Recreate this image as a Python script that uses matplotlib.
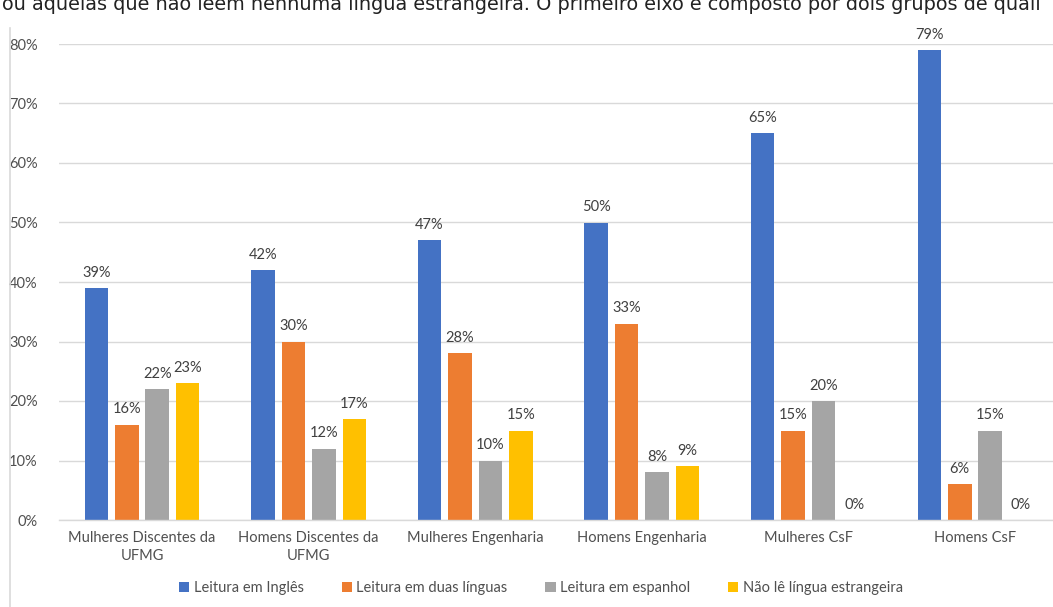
import matplotlib
matplotlib.use("Agg")
import matplotlib.pyplot as plt
import matplotlib.ticker as mtick
from matplotlib.lines import Line2D
import numpy as np

# Shares of each reading profile per group (percent)
categories = [
    "Mulheres Discentes da\nUFMG",
    "Homens Discentes da\nUFMG",
    "Mulheres Engenharia",
    "Homens Engenharia",
    "Mulheres CsF",
    "Homens CsF",
]
ingles = [39, 42, 47, 50, 65, 79]
duas_linguas = [16, 30, 28, 33, 15, 6]
espanhol = [22, 12, 10, 8, 20, 15]
nao_le = [23, 17, 15, 9, 0, 0]

series_names = [
    "Leitura em Inglês",
    "Leitura em duas línguas",
    "Leitura em espanhol",
    "Não lê língua estrangeira",
]
colors = ["#4472C4", "#ED7D31", "#A5A5A5", "#FFC000"]

plt.rcParams["font.family"] = ["Lato", "DejaVu Sans"]
text_gray = "#505050"
grid_gray = "#D9D9D9"

fig = plt.figure(figsize=(10.53, 6.07), dpi=100)
ax = fig.add_axes([58.7 / 1053, 87 / 607, 999.6 / 1053, 476 / 607])

x = np.arange(len(categories))
width = 0.141
step = 0.183
all_series = [ingles, duas_linguas, espanhol, nao_le]

for i, (vals, name, col) in enumerate(zip(all_series, series_names, colors)):
    offs = (i - 1.5) * step
    fracs = np.array(vals) / 100
    bars = ax.bar(x + offs, fracs, width, color=col, label=name, zorder=2)
    for b, v in zip(bars, vals):
        ax.annotate(f"{v}%", (b.get_x() + b.get_width() / 2, b.get_height()),
                    xytext=(0, 6), textcoords="offset points",
                    ha="center", va="bottom", fontsize=10.5,
                    color="#404040", annotation_clip=False)

# --- axes formatting ---
ax.set_xlim(-0.5, len(categories) - 0.5)
ax.set_ylim(0, 0.8)
ax.yaxis.set_major_locator(mtick.MultipleLocator(0.1))
ax.yaxis.set_major_formatter(mtick.FuncFormatter(lambda v, _: f"{v * 100:.0f}%"))
ax.set_xticks(x)
ax.set_xticklabels(categories, fontsize=10.5, color=text_gray, linespacing=1.35)
ax.tick_params(axis="y", length=0, pad=15, labelsize=10.5, labelcolor=text_gray)
ax.tick_params(axis="x", length=0, pad=8)
ax.grid(axis="y", color=grid_gray, linewidth=1, zorder=0)
ax.set_axisbelow(True)
for side in ["top", "right", "left"]:
    ax.spines[side].set_visible(False)
ax.spines["bottom"].set_color(grid_gray)
ax.spines["bottom"].set_linewidth(1)

fig.legend(loc="center", bbox_to_anchor=(541 / 1053, 1 - 588 / 607), ncol=4,
           frameon=False, fontsize=10.5, handlelength=0.7, handleheight=0.7,
           handletextpad=0.3, columnspacing=2.6, labelcolor=text_gray)

# chart border on the left and the page text above it
fig.add_artist(Line2D([10 / 1053, 10 / 1053], [0, 1 - 28 / 607],
                      color=grid_gray, linewidth=1.2))
fig.text(0.002, 1 - 4 / 607,
         "ou aquelas que não leem nenhuma língua estrangeira. O primeiro eixo é "
         "composto por dois grupos de quali",
         ha="left", va="center", fontsize=13.9, color="#222222",
         family=["DejaVu Sans"])

fig.savefig("out.png", dpi=100)
